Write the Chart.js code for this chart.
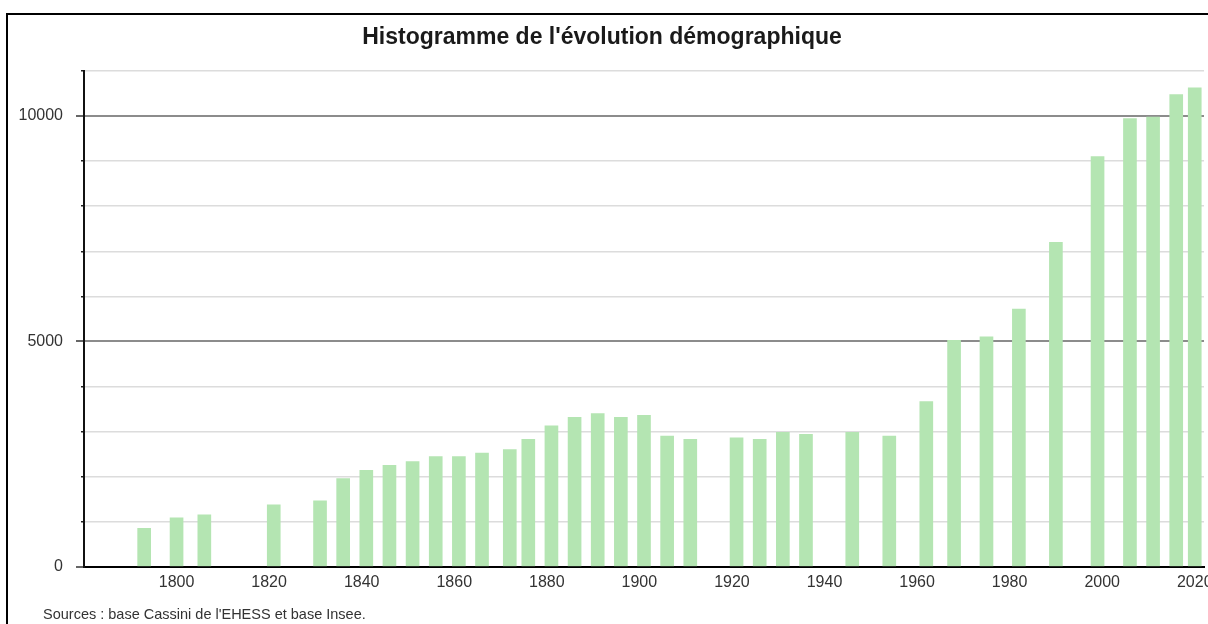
<!DOCTYPE html>
<html>
<head>
<meta charset="utf-8">
<script src="https://cdn.jsdelivr.net/npm/chart.js@4"></script>
<style>
  html, body { margin: 0; padding: 0; background: #fff; overflow: hidden; }
  #frame { position: absolute; left: 6px; top: 13px; width: 1300px; height: 800px; border: 2px solid #000; box-sizing: border-box; }
  #wrap { position: absolute; left: 0; top: 0; width: 1228px; height: 624px; }
  #sources { position: absolute; left: 43px; top: 606px; font: 14.5px "Liberation Sans", Arial, sans-serif; color: #333; white-space: nowrap; }
</style>
</head>
<body>
<div id="frame"></div>
<div id="wrap"><canvas id="popChart"></canvas></div>
<div id="sources">Sources : base Cassini de l'EHESS et base Insee.</div>
<script>
// census years and population
const years = [1793, 1800, 1806, 1821, 1831, 1836, 1841, 1846, 1851, 1856, 1861, 1866,
               1872, 1876, 1881, 1886, 1891, 1896, 1901, 1906, 1911,
               1921, 1926, 1931, 1936, 1946, 1954, 1962, 1968, 1975, 1982, 1990,
               1999, 2006, 2011, 2016, 2020];
const population = [854, 1086, 1153, 1376, 1465, 1956, 2141, 2253, 2335, 2447, 2447, 2521,
                    2603, 2826, 3130, 3317, 3398, 3317, 3361, 2900, 2826,
                    2863, 2826, 2982, 2937, 2982, 2900, 3665, 5026, 5101, 5718, 7198,
                    9101, 9942, 9978, 10477, 10625];
const yLabels = [0, 5000, 10000];

const ctx = document.getElementById('popChart').getContext('2d');
const points = years.map((y, i) => ({ x: y, y: population[i] }));

const isMajor = (ctx) => ctx.tick && ctx.tick.value % 5000 === 0;
const fontFamily = '"Liberation Sans", Arial, sans-serif';

const config = {
  type: 'bar',
  data: {
    datasets: [{
      data: points,
      backgroundColor: 'rgb(180,229,178)',
      borderWidth: 0,
      barThickness: 13,
    }],
  },
  options: {
    responsive: true,
    maintainAspectRatio: false,
    animation: false,
    layout: { padding: { left: 0, right: 24, top: 0, bottom: 26 } },
    plugins: {
      legend: { display: false },
      tooltip: { enabled: false },
      title: {
        display: true,
        text: "Histogramme de l'évolution démographique",
        color: '#1a1a1a',
        font: { family: fontFamily, size: 23, weight: 'bold' },
        padding: { top: 23.5, bottom: 19.9 },
      },
    },
    scales: {
      x: {
        type: 'linear',
        offset: false,
        min: 1780,
        max: 2022,
        grid: { display: false, drawTicks: false, offset: false },
        border: { display: true, color: '#000', width: 2 },
        ticks: {
          stepSize: 20,
          includeBounds: false,
          maxRotation: 0,
          autoSkip: false,
          padding: 6,
          color: '#333',
          font: { family: fontFamily, size: 16 },
          callback: (v) => (v === 1780 ? '' : String(v)),
        },
      },
      y: {
        min: 0,
        max: 11000,
        afterFit: (scale) => { scale.width = 84; },
        grid: {
          color: (c) => (isMajor(c) ? '#8c8c8c' : '#dcdcdc'),
          lineWidth: (c) => (isMajor(c) ? 2 : 1.5),
          tickLength: 8,
          tickColor: (c) => (isMajor(c) ? '#666' : '#222'),
          tickWidth: (c) => (isMajor(c) ? 2 : 1.5),
          tickBorderDash: (c) => (isMajor(c) ? [] : [0, 5, 3, 100]),
        },
        border: { display: true, color: '#111', width: 2 },
        ticks: {
          stepSize: 1000,
          padding: 13,
          color: '#333',
          font: { family: fontFamily, size: 16 },
          callback: (v) => (yLabels.includes(v) ? String(v) : ''),
        },
      },
    },
  },
};

const popChart = new Chart(ctx, config);
</script>
</body>
</html>
